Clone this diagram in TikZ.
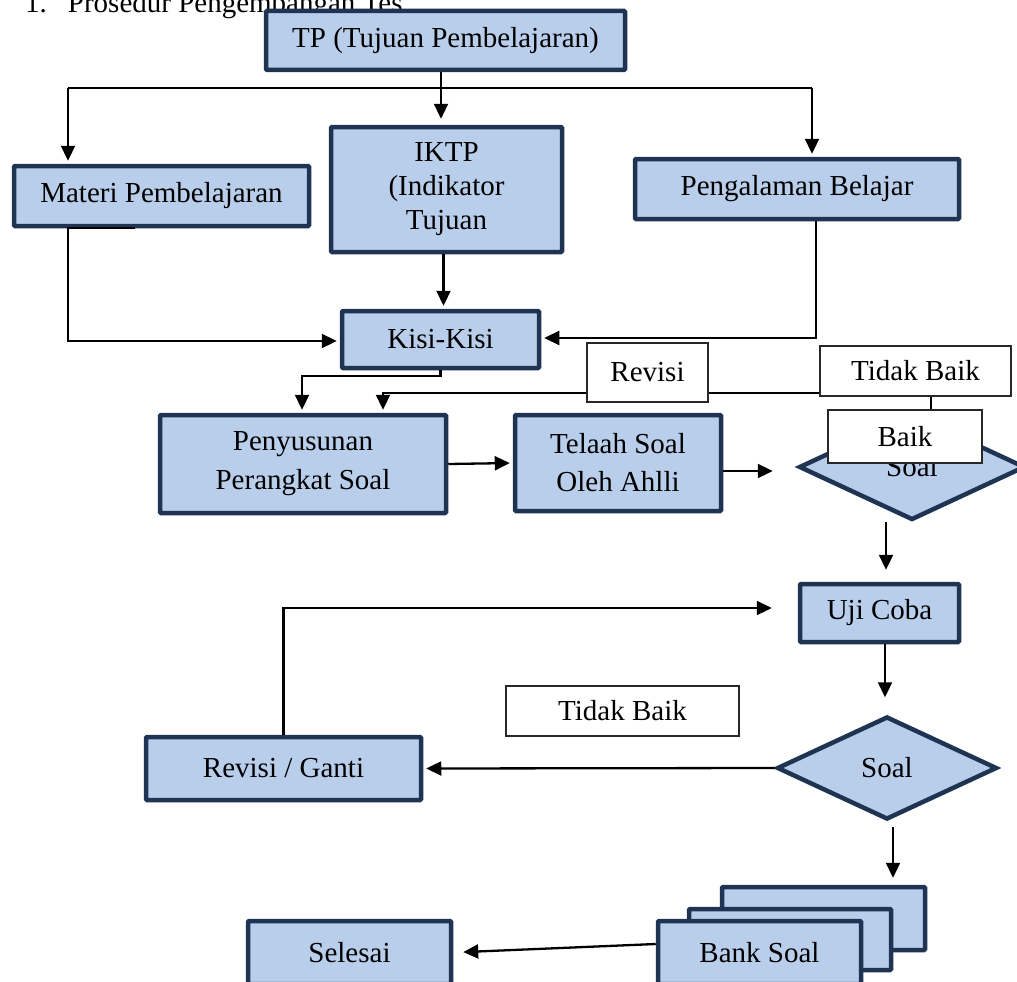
\documentclass[tikz,border=0pt]{standalone}
\usepackage{fontspec}
\setmainfont{Liberation Serif}
\usepackage{tikz}
\usetikzlibrary{arrows.meta, shapes.geometric}
\definecolor{boxfill}{RGB}{185, 206, 235}
\definecolor{boxline}{RGB}{30, 52, 82}
\definecolor{labelline}{RGB}{40, 40, 40}

\begin{document}
\begin{tikzpicture}[x=1pt, y=-1pt,
    font=\fontsize{29}{34}\selectfont,
    blok/.style={draw=boxline, fill=boxfill, line width=4.5pt, rounded corners=1pt, inner sep=0pt, align=center},
    soal/.style={diamond, draw=boxline, fill=boxfill, line width=4.5pt, inner sep=0pt},
    ket/.style={draw=labelline, fill=white, line width=1.3pt, inner sep=0pt},
    arr/.style={-{Triangle[length=15pt, width=14pt]}, line width=2.3pt, shorten >=3pt},
    garis/.style={line width=2.3pt}]
    \useasboundingbox (0,0) rectangle (1017,982);
    \clip (0,0) rectangle (1017,982);

    % judul (terpotong di atas)
    \node[anchor=base west, inner sep=0pt] (judul) at (25,13) {1.\hspace{21pt}Prosedur Pengembangan Tes};

    % kotak-kotak
    \node[blok, minimum width=359pt, minimum height=59pt] (tp) at (445.5,40.5) {TP (Tujuan Pembelajaran)};
    \node[blok, minimum width=295pt, minimum height=60pt] (materi) at (161.5,196) {Materi Pembelajaran};
    \node[blok, minimum width=231pt, minimum height=125pt] (iktp) at (446.5,189.5) {IKTP\\(Indikator\\Tujuan};
    \node[blok, minimum width=324pt, minimum height=60pt] (pengalaman) at (797,189) {Pengalaman Belajar};
    \node[blok, minimum width=197pt, minimum height=57pt] (kisi) at (440.5,339.5) {Kisi-Kisi};
    \node[blok, minimum width=286pt, minimum height=98pt] (penyusunan) at (303,464) {Penyusunan\\[5pt]Perangkat Soal};
    \node[blok, minimum width=206pt, minimum height=96pt] (telaah) at (618,463) {Telaah Soal\\[4pt]Oleh Ahlli};
    \node[soal, minimum width=226pt, minimum height=106pt] (soala) at (912,467) {Soal};
    \node[blok, minimum width=159pt, minimum height=58pt] (ujicoba) at (879.5,613) {Uji Coba};
    \node[soal, minimum width=220pt, minimum height=103pt] (soalb) at (887,768) {Soal};
    \node[blok, minimum width=275pt, minimum height=63pt] (revganti) at (283.5,768.5) {Revisi / Ganti};
    \node[blok, minimum width=203pt, minimum height=63pt] (bankback) at (823.5,918.5) {};
    \node[blok, minimum width=202pt, minimum height=61pt] (bankmid) at (790,939.5) {};
    \node[blok, minimum width=203pt, minimum height=63pt] (bank) at (759.5,952.5) {Bank Soal};
    \node[blok, minimum width=203pt, minimum height=63pt] (selesai) at (349.5,952.5) {Selesai};

    % cabang dari TP
    \coordinate (split) at (441,88);
    \coordinate (lcorner) at (68,88);
    \coordinate (rcorner) at (812,88);
    \draw[arr, shorten >=6pt] (tp.south -| split) -- (iktp.north -| split);
    \draw[garis] (lcorner) -- (rcorner);
    \draw[arr] (lcorner) -- (lcorner |- materi.north);
    \draw[arr] (rcorner) -- (rcorner |- pengalaman.north);

    % menuju kisi-kisi
    \draw[arr] ([xshift=-26.5pt]materi.south) -- (lcorner |- materi.south) |- ([yshift=-1.5pt]kisi.west);
    \draw[arr] ([xshift=19pt]pengalaman.south) |- ([yshift=1.5pt]kisi.east);
    \draw[arr] ([xshift=-3pt]iktp.south) -- ([xshift=-3pt]iktp.south |- kisi.north);
    \draw[arr] (kisi.south) -- ++(0,6) -| ([xshift=-1pt]penyusunan.north);

    % revisi
    \coordinate (revstart) at (931,410);
    \coordinate (revturn) at (931,393);
    \draw[arr] (revstart) -- (revturn) -| ([xshift=80pt]penyusunan.north);

    \draw[arr] (penyusunan.east) -- (telaah.west);
    \draw[arr, shorten >=24pt] ([yshift=-8pt]telaah.east) -- ([yshift=-4pt]soala.west);
    \draw[arr, shorten >=12pt] ([xshift=-26pt]soala.south) -- ([xshift=-26pt]soala.south |- ujicoba.north);
    \draw[arr, shorten >=17pt] ([xshift=5.5pt]ujicoba.south) -- ([xshift=5.5pt]ujicoba.south |- soalb.north);
    \draw[arr] (soalb.west) -- (revganti.east);
    \draw[arr, shorten >=26pt] (revganti.north) |- ([yshift=5pt]ujicoba.west);
    \draw[arr, shorten >=7pt] ([xshift=6pt, yshift=-5pt]soalb.south) -- ([xshift=6pt]soalb.south |- bankback.north);
    \draw[arr, shorten >=10pt] ([yshift=8.5pt]bank.west) -- (selesai.east);

    % keterangan
    \node[ket, minimum width=121pt, minimum height=59pt] (lblrevisi) at (647.5,372.5) {Revisi};
    \node[ket, minimum width=191pt, minimum height=50pt] (lbltidak) at (915.5,371) {Tidak Baik};
    \node[ket, minimum width=154pt, minimum height=53pt] (lblbaik) at (905,436.5) {Baik};
    \node[ket, minimum width=233pt, minimum height=50pt] (lbltidakb) at (622.5,711) {Tidak Baik};
\end{tikzpicture}
\end{document}
